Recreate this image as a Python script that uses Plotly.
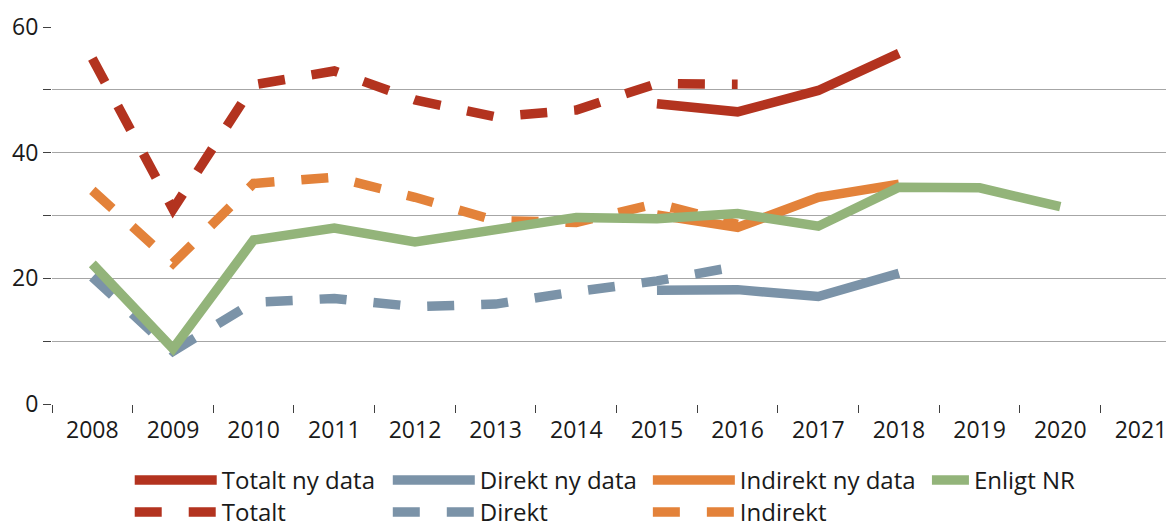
import plotly.graph_objects as go

years = [str(y) for y in range(2008, 2022)]

totalt_ny = [None, None, None, None, None, None, None, 47.8, 46.5, 49.9, 55.8, None, None, None]
direkt_ny = [None, None, None, None, None, None, None, 18.1, 18.2, 17.1, 20.8, None, None, None]
indirekt_ny = [None, None, None, None, None, None, None, 30.1, 28.1, 32.9, 35.0, None, None, None]
enligt_nr = [22.3, 8.8, 26.1, 28.0, 25.8, 27.6, 29.7, 29.5, 30.3, 28.3, 34.5, 34.4, 31.4, None]
totalt = [55.0, 31.0, 50.8, 53.0, 48.4, 45.7, 46.8, 51.0, 50.9, None, None, None, None, None]
direkt = [20.2, 8.4, 16.2, 16.8, 15.5, 15.9, 17.9, 19.6, 21.9, None, None, None, None, None]
indirekt = [34.0, 22.4, 35.1, 36.1, 32.9, 29.2, 28.9, 31.9, 28.6, None, None, None, None, None]

y_tickvals = [0, 10, 20, 30, 40, 50, 60]
y_ticktext = ["0", "", "20", "", "40", "", "60"]

RED = "#B3331F"
BLUE = "#7B93A8"
ORANGE = "#E3823A"
GREEN = "#93B47A"
DASH = "27px,27px"
LW = 9.5
FONT = "Open Sans, Liberation Sans, Arial, sans-serif"
TXT = "#1a1a1a"

# the page body adds an 8 px offset; design in page pixels and shift
OFF = 8
W, H = 1174 - OFF, 527 - OFF
ML = 52.3 - OFF
MT = 26.7 - OFF
MB = H - (404 - OFF)
MR = 0
PW = W - ML - MR
PH = H - MT - MB

def px_x(px):
    return (px - OFF - ML) / PW

def px_y(py):
    return (H - MB - (py - OFF)) / PH

series = [
    ("Totalt ny data", totalt_ny, RED, "solid"),
    ("Direkt ny data", direkt_ny, BLUE, "solid"),
    ("Indirekt ny data", indirekt_ny, ORANGE, "solid"),
    ("Enligt NR", enligt_nr, GREEN, "solid"),
    ("Totalt", totalt, RED, DASH),
    ("Direkt", direkt, BLUE, DASH),
    ("Indirekt", indirekt, ORANGE, DASH),
]

# legend: text start (page px), row centre (page px), symbol length (px)
ROW1, ROW2 = 480.5, 512.5
legend_pos = [(222, ROW1, 82), (480, ROW1, 82), (740, ROW1, 82), (974, ROW1, 37),
              (222, ROW2, 82), (480, ROW2, 82), (740, ROW2, 82)]

# draw order: dashed first then solid, green on top
draw_order = [4, 5, 6, 0, 1, 2, 3]

fig = go.Figure()
for i in draw_order:
    name, vals, col, dash = series[i]
    lg = "legend" if i == 0 else f"legend{i+1}"
    fig.add_trace(go.Scatter(
        x=years, y=vals, name=name, mode="lines",
        line=dict(color=col, width=LW, dash=dash),
        connectgaps=False, legend=lg, hoverinfo="skip",
    ))

layout_legends = {}
for i, (tx, ty, iw) in enumerate(legend_pos):
    key = "legend" if i == 0 else f"legend{i+1}"
    layout_legends[key] = dict(
        x=px_x(tx - iw - 10), y=px_y(ty), xanchor="left", yanchor="middle",
        orientation="h", itemwidth=iw,
        font=dict(family=FONT, size=24, color=TXT),
        bgcolor="rgba(0,0,0,0)", borderwidth=0,
    )

fig.update_layout(
    width=W, height=H,
    margin=dict(l=ML, r=MR, t=MT, b=MB, pad=0, autoexpand=False),
    paper_bgcolor="white", plot_bgcolor="white",
    font=dict(family=FONT, size=24, color=TXT),
    showlegend=True,
    **layout_legends,
)

fig.update_xaxes(
    type="category", categoryorder="array", categoryarray=years,
    range=[-0.5, 13.41], tickson="boundaries", automargin=False,
    showgrid=False, zeroline=False, showline=False,
    ticks="outside", ticklen=8, tickwidth=1.3, tickcolor="#404040",
    tickfont=dict(family=FONT, size=23, color=TXT),
    ticklabelstandoff=10,
)
fig.update_yaxes(
    range=[0, 60], tickvals=y_tickvals, ticktext=y_ticktext, automargin=False,
    showgrid=True, gridcolor="#A6A6A6", gridwidth=1.3,
    zeroline=False, showline=False,
    ticks="outside", ticklen=8, tickwidth=1.3, tickcolor="#404040",
    tickfont=dict(family=FONT, size=23, color=TXT),
    ticklabelstandoff=0,
)

fig.write_html("out.html")
